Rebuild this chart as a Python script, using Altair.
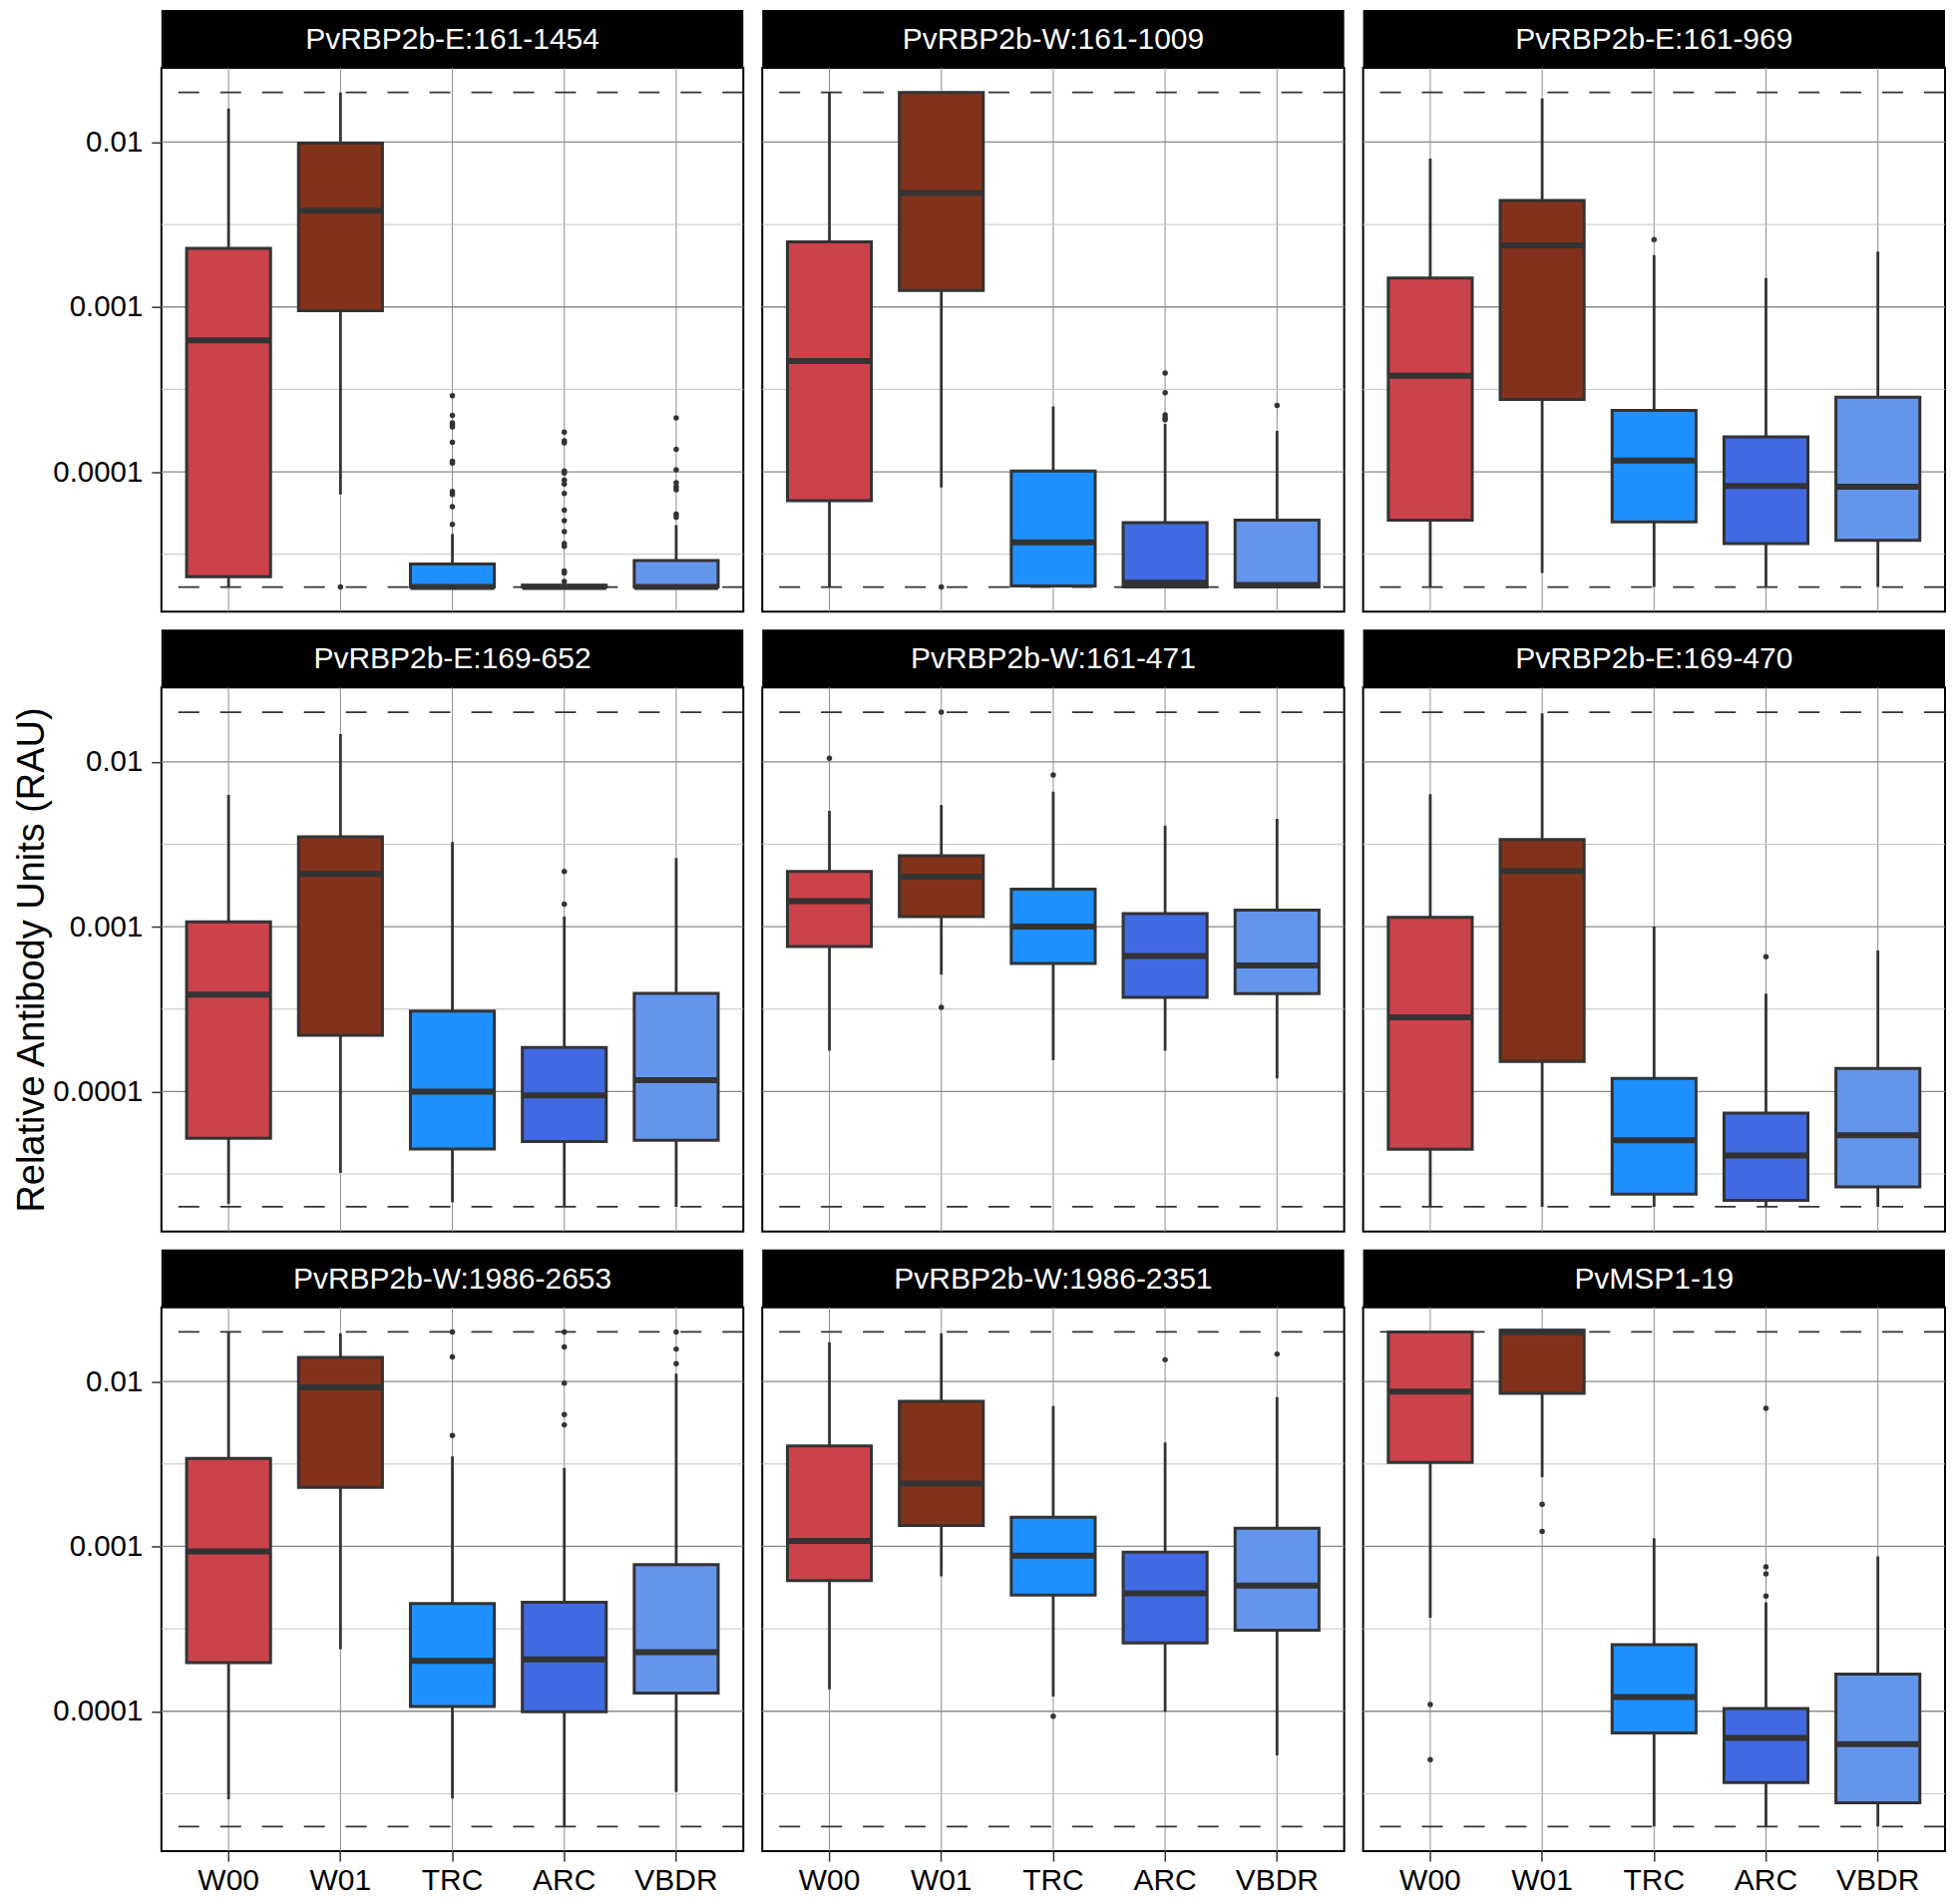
import altair as alt
import pandas as pd

PANELS = ["PvRBP2b-E:161-1454", "PvRBP2b-W:161-1009", "PvRBP2b-E:161-969",
          "PvRBP2b-E:169-652", "PvRBP2b-W:161-471", "PvRBP2b-E:169-470",
          "PvRBP2b-W:1986-2653", "PvRBP2b-W:1986-2351", "PvMSP1-19"]
GROUPS = ["W00", "W01", "TRC", "ARC", "VBDR"]
GROUP_COLORS = ["#CB424B", "#82321A", "#1E90FF", "#4169E1", "#6495ED"]

# box statistics per panel, in GROUPS order
LOWER = [
    [2.0e-5, 7.28e-5, 2.0e-5, 2.0e-5, 2.0e-5],
    [2.0e-5, 8.04e-5, 2.0e-5, 2.0e-5, 2.0e-5],
    [2.0e-5, 2.43e-5, 2.0e-5, 2.0e-5, 2.0e-5],
    [2.08e-5, 3.21e-5, 2.13e-5, 2.0e-5, 2.0e-5],
    [1.77e-4, 5.12e-4, 1.55e-4, 1.77e-4, 1.20e-4],
    [2.0e-5, 2.0e-5, 2.0e-5, 2.0e-5, 2.0e-5],
    [2.92e-5, 2.38e-4, 2.96e-5, 2.0e-5, 3.23e-5],
    [1.36e-4, 6.58e-4, 1.23e-4, 9.94e-5, 5.40e-5],
    [3.69e-4, 2.63e-3, 2.0e-5, 2.0e-5, 2.0e-5],
]
Q1 = [
    [2.31e-5, 9.48e-4, 2.0e-5, 2.0e-5, 2.0e-5],
    [6.67e-5, 1.26e-3, 2.03e-5, 2.0e-5, 2.0e-5],
    [5.09e-5, 2.75e-4, 4.96e-5, 3.67e-5, 3.84e-5],
    [5.21e-5, 2.19e-4, 4.48e-5, 4.98e-5, 5.07e-5],
    [7.57e-4, 1.15e-3, 5.99e-4, 3.72e-4, 3.92e-4],
    [4.46e-5, 1.52e-4, 2.39e-5, 2.19e-5, 2.64e-5],
    [1.97e-4, 2.28e-3, 1.07e-4, 9.94e-5, 1.29e-4],
    [6.20e-4, 1.34e-3, 5.06e-4, 2.60e-4, 3.10e-4],
    [3.23e-3, 8.49e-3, 7.38e-5, 3.69e-5, 2.79e-5],
]
MEDIAN = [
    [6.26e-4, 3.84e-3, 2.0e-5, 2.0e-5, 2.0e-5],
    [4.69e-4, 4.91e-3, 3.73e-5, 2.12e-5, 2.06e-5],
    [3.83e-4, 2.36e-3, 1.17e-4, 8.2e-5, 8.12e-5],
    [3.87e-4, 2.09e-3, 1.0e-4, 9.46e-5, 1.17e-4],
    [1.43e-3, 2.01e-3, 1.0e-3, 6.65e-4, 5.82e-4],
    [2.82e-4, 2.18e-3, 5.07e-5, 4.10e-5, 5.42e-5],
    [9.33e-4, 9.22e-3, 2.02e-4, 2.06e-4, 2.28e-4],
    [1.08e-3, 2.40e-3, 8.79e-4, 5.20e-4, 5.78e-4],
    [8.69e-3, 2.0e-2, 1.22e-4, 6.89e-5, 6.31e-5],
]
Q3 = [
    [2.27e-3, 9.84e-3, 2.76e-5, 2.05e-5, 2.9e-5],
    [2.48e-3, 2.0e-2, 1.01e-4, 4.91e-5, 5.09e-5],
    [1.50e-3, 4.42e-3, 2.36e-4, 1.63e-4, 2.83e-4],
    [1.07e-3, 3.51e-3, 3.07e-4, 1.85e-4, 3.94e-4],
    [2.16e-3, 2.69e-3, 1.69e-3, 1.20e-3, 1.26e-3],
    [1.14e-3, 3.38e-3, 1.20e-4, 7.40e-5, 1.38e-4],
    [3.42e-3, 1.40e-2, 4.50e-4, 4.58e-4, 7.74e-4],
    [4.07e-3, 7.60e-3, 1.50e-3, 9.23e-4, 1.29e-3],
    [2.0e-2, 2.05e-2, 2.53e-4, 1.04e-4, 1.68e-4],
]
UPPER = [
    [1.60e-2, 2.0e-2, 4.2e-5, 2.05e-5, 4.75e-5],
    [2.0e-2, 2.0e-2, 2.49e-4, 1.95e-4, 1.77e-4],
    [7.94e-3, 1.84e-2, 2.06e-3, 1.50e-3, 2.17e-3],
    [6.30e-3, 1.475e-2, 3.26e-3, 1.15e-3, 2.61e-3],
    [5.04e-3, 5.47e-3, 6.58e-3, 4.10e-3, 4.51e-3],
    [6.37e-3, 1.97e-2, 1.0e-3, 3.92e-4, 7.16e-4],
    [2.0e-2, 1.96e-2, 3.52e-3, 2.99e-3, 1.116e-2],
    [1.73e-2, 1.96e-2, 7.10e-3, 4.27e-3, 8.06e-3],
    [2.0e-2, 2.05e-2, 1.12e-3, 4.58e-4, 8.69e-4],
]
# outliers per panel, one list per group (GROUPS order)
OUTLIERS = [
    [[], [2.0e-5],
     [2.89e-4, 2.20e-4, 1.98e-4, 1.93e-4, 1.87e-4, 1.51e-4, 1.16e-4, 1.13e-4, 7.6e-5, 7.28e-5, 6.14e-5, 4.80e-5],
     [1.74e-4, 1.54e-4, 1.50e-4, 1.01e-4, 9.84e-5, 8.91e-5, 8.44e-5, 7.40e-5, 5.85e-5, 5.05e-5, 4.33e-5,
      3.67e-5, 3.53e-5, 2.50e-5, 2.43e-5, 2.16e-5],
     [2.12e-4, 1.37e-4, 1.03e-4, 8.57e-5, 8.12e-5, 7.78e-5, 5.53e-5, 5.30e-5]],
    [[], [2.0e-5], [], [3.97e-4, 3.02e-4, 2.21e-4, 2.12e-4, 2.07e-4], [2.53e-4]],
    [[], [], [2.56e-3], [], []],
    [[], [], [], [2.16e-3, 1.37e-3], []],
    [[1.05e-2], [2.0e-2, 3.24e-4], [8.32e-3], [], []],
    [[], [], [], [6.58e-4], []],
    [[], [], [2.0e-2, 1.41e-2, 4.71e-3], [2.0e-2, 1.62e-2, 9.77e-3, 6.31e-3, 5.46e-3], [2.0e-2, 1.574e-2, 1.285e-2]],
    [[], [], [9.33e-5], [1.355e-2], [1.468e-2]],
    [[1.10e-4, 5.09e-5], [1.80e-3, 1.23e-3], [], [6.89e-3, 7.52e-4, 6.81e-4, 5.00e-4], []],
]
MAJOR_BREAKS = [1e-4, 1e-3, 1e-2]
MINOR_BREAKS = [3.162e-5, 3.162e-4, 3.162e-3]
LIMITS = [2e-5, 2e-2]
Y_TITLE = "Relative Antibody Units (RAU)"

FONT = "Liberation Sans"
W, H, STRIP = 584, 546, 58
STEP = W / 5.2
BOXW = STEP * 0.75
YDOM = [10 ** -4.849, 10 ** -1.549]
DARK = "#333333"

X_SCALE = alt.Scale(type="band", domain=GROUPS, paddingInner=0.25, paddingOuter=0.225)
Y_SCALE = alt.Scale(type="log", domain=YDOM, nice=False)


def make_panel(i):
    row, col = divmod(i, 3)
    box_df = pd.DataFrame({"group": GROUPS, "lower": LOWER[i], "q1": Q1[i],
                           "median": MEDIAN[i], "q3": Q3[i], "upper": UPPER[i]})
    out_df = pd.DataFrame([(g, v) for g, vals in zip(GROUPS, OUTLIERS[i]) for v in vals],
                          columns=["group", "value"])
    title_df = pd.DataFrame({"title": [PANELS[i]]})

    if row == 2:
        x_axis = alt.Axis(title=None, labelFontSize=30, labelFont=FONT, labelColor="black",
                          labelAngle=0, tickSize=10, tickWidth=1.5, tickColor=DARK,
                          labelPadding=4, domain=False, grid=False)
    else:
        x_axis = None
    if col == 0:
        y_axis = alt.Axis(values=MAJOR_BREAKS, format="~g", grid=False, domain=False,
                          tickSize=10, tickWidth=1.5, tickColor=DARK, labelFontSize=29.5,
                          labelFont=FONT, labelColor="black", labelPadding=9,
                          title=Y_TITLE if row == 1 else None, titleFontSize=38,
                          titleFont=FONT, titleFontWeight="normal", titleColor="black",
                          titlePadding=1)
    else:
        y_axis = None

    def X():
        return alt.X("group:N", scale=X_SCALE, axis=x_axis)

    def Y(field):
        return alt.Y(field, scale=Y_SCALE, axis=y_axis)

    strip = alt.Chart(title_df).mark_rect(color="black").encode(
        x=alt.value(0), x2=alt.value(W), y=alt.value(-STRIP), y2=alt.value(0))
    strip_text = alt.Chart(title_df).mark_text(
        color="white", fontSize=30, font=FONT, align="center", baseline="middle").encode(
        x=alt.value(W / 2), y=alt.value(-STRIP / 2 + 1), text="title:N")

    vgrid = alt.Chart(pd.DataFrame({"group": GROUPS})).mark_rule(
        color="#8f8f8f", strokeWidth=1).encode(x=X())
    minor = alt.Chart(pd.DataFrame({"v": MINOR_BREAKS})).mark_rule(
        color="#c4c4c4", strokeWidth=1).encode(y=Y("v:Q"))
    major = alt.Chart(pd.DataFrame({"v": MAJOR_BREAKS})).mark_rule(
        color="#8a8a8a", strokeWidth=1.3).encode(y=Y("v:Q"))
    dashed = alt.Chart(pd.DataFrame({"v": LIMITS})).mark_rule(
        color=DARK, strokeWidth=1.8, strokeDash=[21, 21]).encode(y=Y("v:Q"))

    whisk = alt.Chart(box_df).mark_rule(color=DARK, strokeWidth=2.8).encode(
        x=X(), y=Y("lower:Q"), y2="upper:Q")
    boxes = alt.Chart(box_df).mark_bar(stroke=DARK, strokeWidth=3, opacity=1).encode(
        x=X(), y=Y("q1:Q"), y2="q3:Q",
        color=alt.Color("group:N", scale=alt.Scale(domain=GROUPS, range=GROUP_COLORS),
                        legend=None))
    med = alt.Chart(box_df).mark_tick(color=DARK, thickness=6, size=BOXW, opacity=1).encode(
        x=X(), y=Y("median:Q"))
    layers = [strip, strip_text, vgrid, minor, major, dashed, whisk, boxes, med]
    if len(out_df):
        pts = alt.Chart(out_df).mark_circle(color=DARK, size=30, opacity=1).encode(
            x=X(), y=Y("value:Q"))
        layers.append(pts)
    return alt.layer(*layers).properties(width=W, height=H)


chart = alt.concat(*[make_panel(i) for i in range(9)], columns=3,
                   spacing={"row": 18 + STRIP, "column": 19}, bounds="flush").properties(
    padding={"left": 4, "top": 0, "right": 0, "bottom": 0}, background="white"
).configure(font=FONT).configure_view(stroke="black", strokeWidth=2)

chart.save("out.html", embed_options={"renderer": "svg", "actions": False})
